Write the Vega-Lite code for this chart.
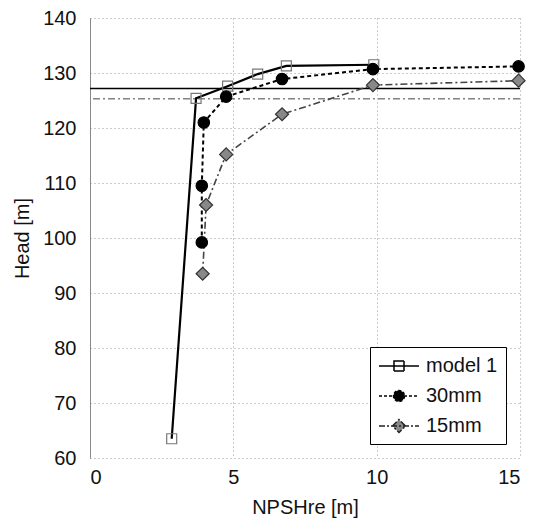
{
  "$schema": "https://vega.github.io/schema/vega-lite/v6.json",
  "width": 430,
  "height": 440,
  "autosize": "none",
  "padding": {"left": 90, "top": 18, "right": 24, "bottom": 69},
  "config": {
    "font": "Liberation Sans",
    "view": {"stroke": null},
    "axis": {
      "labelFontSize": 20,
      "titleFontSize": 20,
      "titleFontWeight": "normal",
      "labelColor": "#111",
      "titleColor": "#111",
      "ticks": false,
      "gridColor": "#999",
      "gridDash": [1, 3],
      "gridWidth": 1
    },
    "legend": {
      "orient": "none",
      "legendX": 280,
      "legendY": 329,
      "symbolSize": 400,
      "symbolOffset": 10,
      "labelOffset": 16,
      "rowPadding": 9,
      "padding": 8,
      "strokeColor": "black",
      "fillColor": "white",
      "labelFontSize": 20,
      "labelColor": "#111",
      "symbolStrokeWidth": 1.5,
      "symbolOpacity": 1
    }
  },
  "data": {
    "values": [
      {"series": "model 1", "i": 1, "x": 2.85, "y": 63.5},
      {"series": "model 1", "i": 2, "x": 3.7, "y": 125.4},
      {"series": "model 1", "i": 3, "x": 4.8, "y": 127.6},
      {"series": "model 1", "i": 4, "x": 5.85, "y": 129.8},
      {"series": "model 1", "i": 5, "x": 6.85, "y": 131.3},
      {"series": "model 1", "i": 6, "x": 9.9, "y": 131.5},
      {"series": "30mm", "i": 1, "x": 3.9, "y": 99.2},
      {"series": "30mm", "i": 2, "x": 3.9, "y": 109.5},
      {"series": "30mm", "i": 3, "x": 3.97, "y": 121.0},
      {"series": "30mm", "i": 4, "x": 4.75, "y": 125.7},
      {"series": "30mm", "i": 5, "x": 6.7, "y": 128.9},
      {"series": "30mm", "i": 6, "x": 9.87, "y": 130.7},
      {"series": "30mm", "i": 7, "x": 14.95, "y": 131.2},
      {"series": "15mm", "i": 1, "x": 3.93, "y": 93.5},
      {"series": "15mm", "i": 2, "x": 4.05, "y": 106.0},
      {"series": "15mm", "i": 3, "x": 4.75, "y": 115.2},
      {"series": "15mm", "i": 4, "x": 6.7, "y": 122.5},
      {"series": "15mm", "i": 5, "x": 9.87, "y": 127.8},
      {"series": "15mm", "i": 6, "x": 14.95, "y": 128.6}
    ]
  },
  "layer": [
    {
      "data": {"values": [{"h": 127.2}]},
      "mark": {"type": "rule", "color": "black", "strokeWidth": 1.5},
      "encoding": {"y": {"field": "h", "type": "quantitative"}}
    },
    {
      "data": {"values": [{"h": 125.3}]},
      "mark": {"type": "rule", "color": "#444", "strokeWidth": 1, "strokeDash": [7, 3, 2, 3]},
      "encoding": {"y": {"field": "h", "type": "quantitative"}}
    },
    {
      "transform": [{"filter": "datum.series == 'model 1'"}],
      "mark": {"type": "line", "color": "black", "strokeWidth": 2.2},
      "encoding": {
        "x": {"field": "x", "type": "quantitative", "scale": {"domain": [0, 15], "nice": false}, "axis": {"values": [0, 5, 10, 15], "title": "NPSHre [m]", "domain": false, "labelPadding": 9, "titlePadding": 10}},
        "y": {"field": "y", "type": "quantitative", "scale": {"domain": [60, 140], "nice": false, "zero": false}, "axis": {"values": [60, 70, 80, 90, 100, 110, 120, 130, 140], "title": "Head [m]", "domainColor": "#888", "labelPadding": 14, "titlePadding": 10}},
        "order": {"field": "i", "type": "quantitative"}
      }
    },
    {
      "transform": [{"filter": "datum.series == '30mm'"}],
      "mark": {"type": "line", "color": "black", "strokeWidth": 2, "strokeDash": [4, 3]},
      "encoding": {
        "x": {"field": "x", "type": "quantitative"},
        "y": {"field": "y", "type": "quantitative"},
        "order": {"field": "i", "type": "quantitative"}
      }
    },
    {
      "transform": [{"filter": "datum.series == '15mm'"}],
      "mark": {"type": "line", "color": "#444", "strokeWidth": 1.6, "strokeDash": [7, 3, 2, 3]},
      "encoding": {
        "x": {"field": "x", "type": "quantitative"},
        "y": {"field": "y", "type": "quantitative"},
        "order": {"field": "i", "type": "quantitative"}
      }
    },
    {
      "mark": {"type": "point", "filled": false, "opacity": 1, "strokeWidth": 1.2},
      "encoding": {
        "x": {"field": "x", "type": "quantitative"},
        "y": {"field": "y", "type": "quantitative"},
        "shape": {
          "condition": [{"test": "datum.series == '30mm'", "value": "circle"}, {"test": "datum.series == '15mm'", "value": "diamond"}],
          "value": "square"
        },
        "size": {
          "condition": [{"test": "datum.series == '30mm'", "value": 130}, {"test": "datum.series == '15mm'", "value": 170}],
          "value": 100
        },
        "fill": {
          "condition": [{"test": "datum.series == '30mm'", "value": "black"}, {"test": "datum.series == '15mm'", "value": "#888"}],
          "value": "transparent"
        },
        "stroke": {
          "condition": [{"test": "datum.series == '30mm'", "value": "black"}, {"test": "datum.series == '15mm'", "value": "#333"}],
          "value": "#777"
        }
      }
    },
    {
      "transform": [{"filter": "false"}],
      "mark": {"type": "point", "filled": false, "strokeWidth": 1.5, "opacity": 1},
      "encoding": {
        "x": {"field": "x", "type": "quantitative"},
        "y": {"field": "y", "type": "quantitative"},
        "shape": {
          "field": "series", "type": "nominal",
          "scale": {"domain": ["model 1", "30mm", "15mm"], "range": ["M-2,0L2,0M-0.5,-0.5L0.5,-0.5L0.5,0.5L-0.5,0.5Z", "M-2,0L2,0M0.55,0A0.55,0.55,0,1,1,-0.55,0A0.55,0.55,0,1,1,0.55,0Z", "M-2,0L2,0M-0.65,0L0,-0.65L0.65,0L0,0.65Z"]},
          "legend": {"title": null}
        },
        "fill": {
          "field": "series", "type": "nominal",
          "scale": {"domain": ["model 1", "30mm", "15mm"], "range": ["transparent", "black", "#888"]},
          "legend": {"title": null}
        },
        "stroke": {
          "field": "series", "type": "nominal",
          "scale": {"domain": ["model 1", "30mm", "15mm"], "range": ["black", "black", "#222"]},
          "legend": {"title": null}
        },
        "strokeDash": {
          "field": "series", "type": "nominal",
          "scale": {"domain": ["model 1", "30mm", "15mm"], "range": [[1, 0], [3, 2], [6, 2, 2, 2]]},
          "legend": {"title": null}
        }
      }
    }
  ]
}
